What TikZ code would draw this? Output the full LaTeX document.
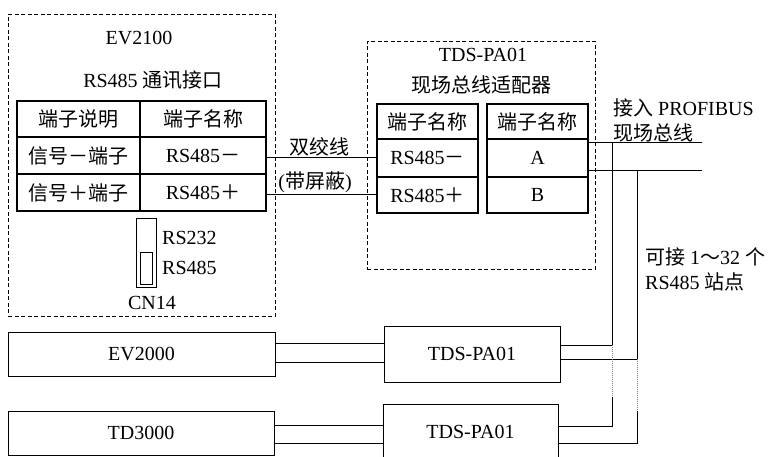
\documentclass[tikz,border=0pt]{standalone}
\usepackage{fontspec}
\setmainfont{Liberation Serif}
\newfontfamily\cjk{Noto Sans CJK SC}
\begin{document}
\begin{tikzpicture}[x=1pt,y=-1pt,
  every node/.style={font=\fontsize{20}{24}\selectfont, inner sep=0pt},
  wire/.style={line width=0.9pt},
  dotwire/.style={line width=0.6pt, gray, dash pattern=on 1pt off 1pt},
  dbox/.style={draw, line width=0.8pt, dash pattern=on 4pt off 2.5pt},
  cell/.style={draw, line width=1.1pt, anchor=center},
  unit/.style={draw, line width=0.9pt, anchor=center},
  lbl/.style={anchor=center},
  wlbl/.style={anchor=west}]
\useasboundingbox (0,0) rectangle (772,457);
\clip (0,0) rectangle (772,457);
% dashed enclosures
\node[dbox, minimum width=267pt, minimum height=302pt, anchor=north west] (ev2100box) at (8,14) {};
\node[dbox, minimum width=228pt, minimum height=228pt, anchor=north west] (pabox) at (367,41) {};
% titles
\node[lbl] (t1) at (139,38) {EV2100};
\node[lbl] (t2) at (153,80) {RS485 {\cjk 通讯接口}};
\node[lbl] (t3) at (483,55) {TDS-PA01};
\node[lbl] (t4) at (481,85) {\cjk 现场总线适配器};
% left table
\node[cell, minimum width=123pt, minimum height=36pt] (h1) at (78.5,119) {\cjk 端子说明};
\node[cell, minimum width=126pt, minimum height=36pt] (h2) at (203,119) {\cjk 端子名称};
\node[cell, minimum width=123pt, minimum height=37pt] (s1) at (78.5,155.5) {\cjk 信号－端子};
\node[cell, minimum width=126pt, minimum height=37pt] (n1) at (203,155.5) {RS485{\cjk －}};
\node[cell, minimum width=123pt, minimum height=37pt] (s2) at (78.5,192.5) {\cjk 信号＋端子};
\node[cell, minimum width=126pt, minimum height=37pt] (n2) at (203,192.5) {RS485{\cjk ＋}};
% switch
\node[draw, line width=0.8pt, minimum width=20pt, minimum height=69pt] (sw) at (146,252.5) {};
\node[draw, line width=0.8pt, minimum width=12pt, minimum height=32pt] (swk) at (146,268) {};
\node[wlbl] (r232) at (162,238) {RS232};
\node[wlbl] (r485) at (162,268) {RS485};
\node[lbl] (cn) at (152,303) {CN14};
% adapter tables
\node[cell, minimum width=101pt, minimum height=35pt] (ph1) at (427.5,121.5) {\cjk 端子名称};
\node[cell, minimum width=101pt, minimum height=38pt] (pm) at (427.5,158) {RS485{\cjk －}};
\node[cell, minimum width=101pt, minimum height=36pt] (pp) at (427.5,195) {RS485{\cjk ＋}};
\node[cell, minimum width=101pt, minimum height=35pt] (ph2) at (537.5,121.5) {\cjk 端子名称};
\node[cell, minimum width=101pt, minimum height=38pt] (pa) at (537.5,158) {A};
\node[cell, minimum width=101pt, minimum height=36pt] (pb) at (537.5,195) {B};
% twisted pair
\coordinate (wm) at (300,157);
\coordinate (wp) at (300,194);
\draw[wire] (n1.east |- wm) -- (pm.west |- wm);
\draw[wire] (n2.east |- wp) -- (pp.west |- wp);
\node[lbl] (tw1) at (319,147) {\cjk 双绞线};
\node[lbl] (tw2) at (315,182) {({\cjk 带屏蔽})};
% bus
\coordinate (busA) at (702,142);
\coordinate (busB) at (702,170);
\draw[wire] (pa.east |- busA) -- (busA);
\draw[wire] (pa.east |- busB) -- (busB);
\node[wlbl] (pr1) at (613,108) {{\cjk 接入} PROFIBUS};
\node[wlbl] (pr2) at (613,133) {\cjk 现场总线};
\node[wlbl] (st1) at (645,257) {{\cjk 可接} 1{\cjk ～}32 {\cjk 个}};
\node[wlbl] (st2) at (645,282) {RS485 {\cjk 站点}};
% lower stations
\node[unit, minimum width=267pt, minimum height=44pt] (ev2000) at (141.5,354) {EV2000};
\node[unit, minimum width=266pt, minimum height=44pt] (td3000) at (141,433) {TD3000};
\node[unit, minimum width=176pt, minimum height=56pt] (pa1) at (472,354) {TDS-PA01};
\node[unit, minimum width=175pt, minimum height=56pt] (pa2) at (470.5,432) {TDS-PA01};
% station wires
\coordinate (e1) at (300,343);
\coordinate (e2) at (300,362);
\coordinate (d1) at (300,425);
\coordinate (d2) at (300,443);
\draw[wire] (ev2000.east |- e1) -- (pa1.west |- e1);
\draw[wire] (ev2000.east |- e2) -- (pa1.west |- e2);
\draw[wire] (td3000.east |- d1) -- (pa2.west |- d1);
\draw[wire] (td3000.east |- d2) -- (pa2.west |- d2);
% drops to bus
\coordinate (v1a) at (612,345);
\coordinate (v1b) at (612,397);
\coordinate (v1c) at (612,426);
\coordinate (v2a) at (637,359);
\coordinate (v2b) at (637,411);
\coordinate (v2c) at (637,443);
\draw[wire] (pa1.east |- v1a) -- (v1a) -- (v1a |- busA);
\draw[wire] (pa1.east |- v2a) -- (v2a) -- (v2a |- busB);
\draw[dotwire] (v1a) -- (v1b);
\draw[dotwire] (v2a) -- (v2b);
\draw[wire] (pa2.east |- v1c) -- (v1c) -- (v1b);
\draw[wire] (pa2.east |- v2c) -- (v2c) -- (v2b);
\end{tikzpicture}
\end{document}
